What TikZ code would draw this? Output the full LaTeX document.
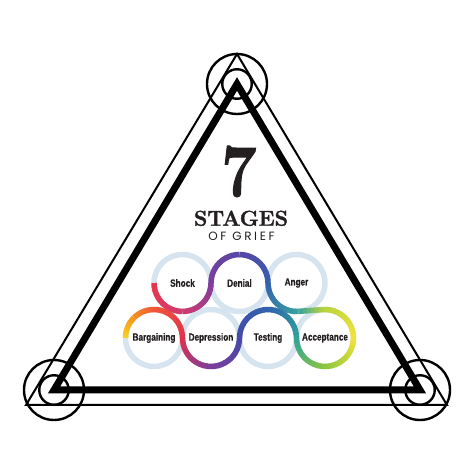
\documentclass[tikz,border=0pt]{standalone}
\usepackage{fontspec}
\usetikzlibrary{calc}
\newfontfamily\labelfont[FakeStretch=0.78,FakeBold=0.5]{Liberation Sans}
\newfontfamily\griefsans[LetterSpace=22]{Poppins}
\newfontfamily\titlefont[FakeBold=1.6]{Latin Modern Roman}

\definecolor{ringgray}{HTML}{D6E4EF}
\definecolor{inkdark}{HTML}{231F20}
\definecolor{cRed}{HTML}{E8364A}
\definecolor{cPink}{HTML}{D23A6E}
\definecolor{cPurple}{HTML}{7D3F9E}
\definecolor{cIndigo}{HTML}{5747A4}
\definecolor{cBlue}{HTML}{3460AF}
\definecolor{cTeal}{HTML}{36A2A0}
\definecolor{cLime}{HTML}{B5D43B}
\definecolor{cYellow}{HTML}{F3E33A}
\definecolor{cGreen}{HTML}{8CC63F}
\definecolor{cSea}{HTML}{2FA39A}
\definecolor{cBlueB}{HTML}{3063B0}
\definecolor{cIndigoB}{HTML}{4649A6}
\definecolor{cPurpleB}{HTML}{7B3D9E}
\definecolor{cRedB}{HTML}{E2324C}
\definecolor{cFlame}{HTML}{F0563A}
\definecolor{cOrange}{HTML}{F7941D}
\definecolor{cGold}{HTML}{F6D323}

% arc on a ring: centre, start angle, end angle, from colour, to colour
\newcommand{\gradarc}[5]{%
  \foreach \k in {0,...,11}{%
    \pgfmathsetmacro{\aa}{#2+(#3-#2)*\k/12}%
    \pgfmathsetmacro{\bb}{#2+(#3-#2)*min(\k+1.2,12)/12}%
    \pgfmathtruncatemacro{\pp}{100*(\k+0.5)/12}%
    \draw[rainbow, draw=#5!\pp!#4] ($(#1)+(\aa:28.5)$) arc (\aa:\bb:28.5);
  }%
}

\begin{document}
\begin{tikzpicture}[x=1pt,y=1pt,
    ring/.style={circle, draw=ringgray, line width=5.5pt, minimum size=57pt,
      inner sep=0pt, outer sep=0pt, text=inkdark,
      font=\labelfont\bfseries\fontsize{10.5}{12}\selectfont},
    rainbow/.style={line width=5.5pt, line cap=butt},
    corner/.style={circle, draw, line width=2.4pt, inner sep=0pt}]

  \useasboundingbox (0,0) rectangle (474,474);

  % triangles
  \coordinate (apexIn) at (237,390);
  \coordinate (leftIn) at (54,84);
  \coordinate (rightIn) at (420,84);
  \coordinate (apexOut) at (237,420);
  \coordinate (leftOut) at (26,69);
  \coordinate (rightOut) at (447,69);

  \draw[line width=2pt, line join=miter] (apexOut) -- (leftOut) -- (rightOut) -- cycle;
  \draw[line width=7pt, line join=miter] (apexIn) -- (leftIn) -- (rightIn) -- cycle;

  % corner circles
  \node[corner, minimum size=60pt] (apexBig) at (apexIn) {};
  \node[corner, minimum size=29.5pt] (apexSmall) at (apexIn) {};
  \node[corner, minimum size=60pt] (leftBig) at (leftIn) {};
  \node[corner, minimum size=29.5pt] (leftSmall) at (leftIn) {};
  \node[corner, minimum size=60pt] (rightBig) at (rightIn) {};
  \node[corner, minimum size=29.5pt] (rightSmall) at (rightIn) {};

  % title
  \node[anchor=base, inner sep=0pt, text=inkdark,
    font=\titlefont\fontsize{74}{74}\selectfont\bfseries] (seven) at (239,278) {\scalebox{0.85}[1]{7}};
  \node[anchor=base, inner sep=0pt, text=inkdark,
    font=\titlefont\fontsize{21.5}{22}\selectfont\bfseries] (stages) at (241,248.3) {STAGES};
  \node[anchor=base, inner sep=0pt, text=inkdark,
    font=\griefsans\fontsize{12}{12}\selectfont] (grief) at (241.5,233) {OF GRIEF};

  % rings
  \node[ring] (shock) at (182.5,191) {Shock};
  \node[ring] (denial) at (239.5,191) {Denial};
  \node[ring] (anger) at (296.5,191) {Anger};
  \node[ring] (bargain) at (154,136) {Bargaining};
  \node[ring] (depress) at (211,136) {Depression};
  \node[ring] (testing) at (268,136) {Testing};
  \node[ring] (accept) at (325,136) {Acceptance};

  % rainbow path
  \gradarc{shock}{180}{270}{cRed}{cPink}
  \gradarc{shock}{270}{360}{cPink}{cPurple}
  \gradarc{denial}{180}{90}{cPurple}{cIndigo}
  \gradarc{denial}{90}{0}{cIndigo}{cBlue}
  \gradarc{anger}{180}{274.33}{cBlue}{cTeal}

  \coordinate (angerOut) at ($(anger)+(274.33:28.5)$);
  \coordinate (acceptIn) at ($(accept)+(94.33:28.5)$);
  \foreach \k in {0,...,5}{
    \pgfmathsetmacro{\ta}{\k/6}
    \pgfmathsetmacro{\tb}{min(\k+1.2,6)/6}
    \pgfmathtruncatemacro{\pp}{100*(\k+0.5)/6}
    \draw[rainbow, draw=cLime!\pp!cTeal] ($(angerOut)!\ta!(acceptIn)$) -- ($(angerOut)!\tb!(acceptIn)$);
  }

  \gradarc{accept}{94.33}{0}{cLime}{cYellow}
  \gradarc{accept}{0}{-90}{cYellow}{cGreen}
  \gradarc{accept}{-90}{-180}{cGreen}{cSea}
  \gradarc{testing}{0}{90}{cSea}{cBlueB}
  \gradarc{testing}{90}{180}{cBlueB}{cIndigoB}
  \gradarc{depress}{0}{-90}{cIndigoB}{cPurpleB}
  \gradarc{depress}{-90}{-180}{cPurpleB}{cRedB}
  \gradarc{bargain}{0}{90}{cRedB}{cFlame}
  \gradarc{bargain}{90}{135}{cFlame}{cOrange}
  \gradarc{bargain}{135}{180}{cOrange}{cGold}

\end{tikzpicture}
\end{document}
